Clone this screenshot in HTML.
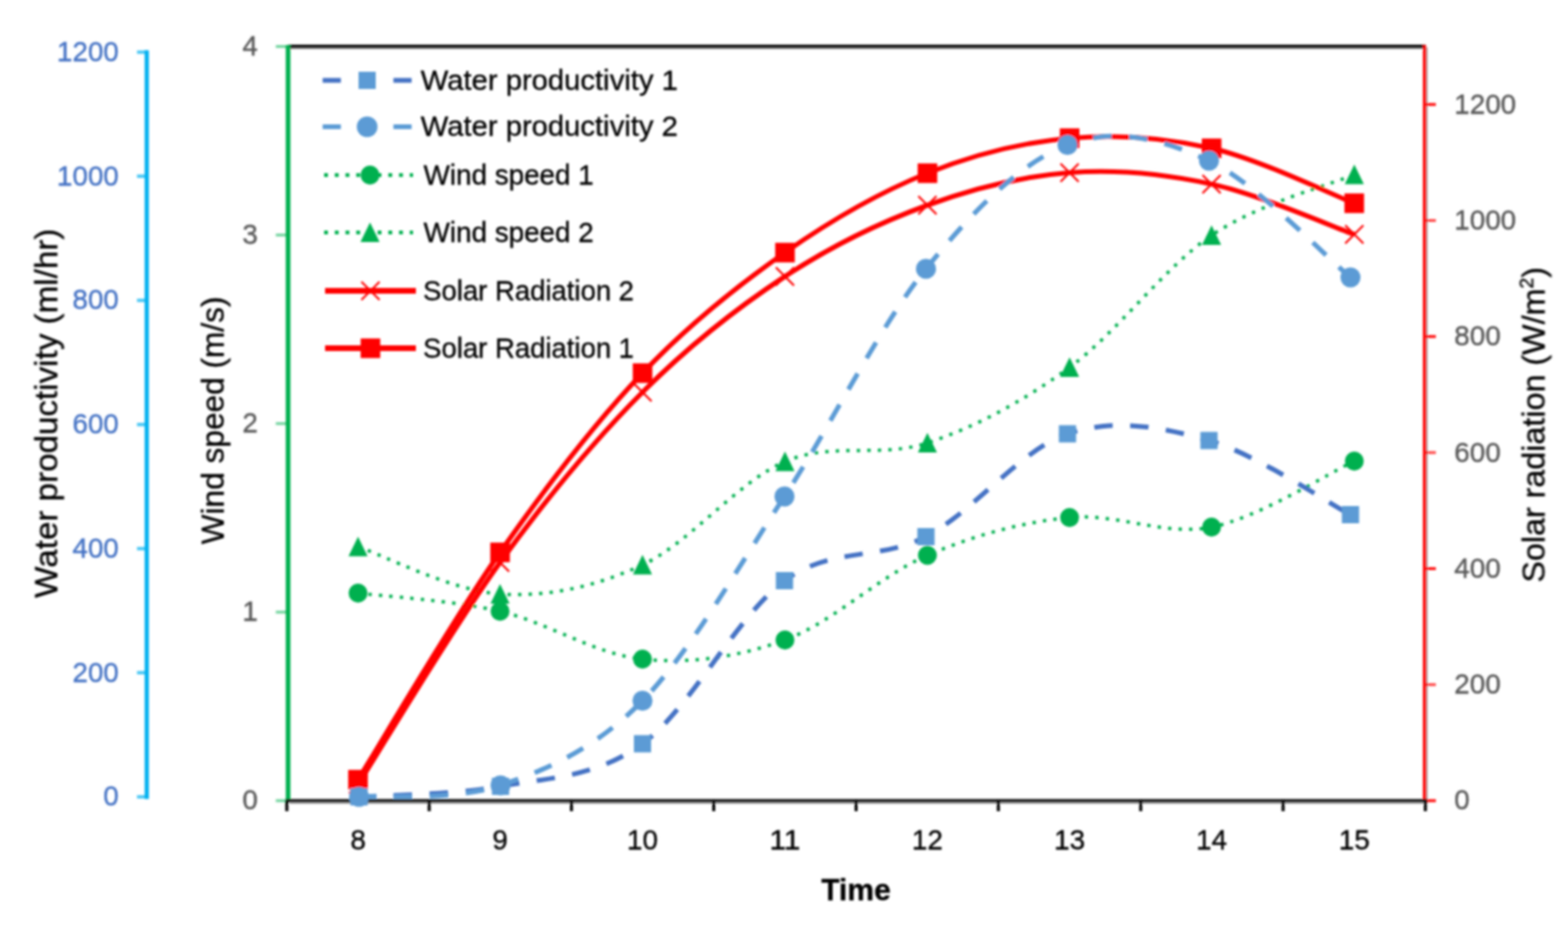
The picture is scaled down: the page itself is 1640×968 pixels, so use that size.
<!DOCTYPE html>
<html lang="en"><head><meta charset="utf-8"><title>Water productivity, wind speed and solar radiation versus time</title>
<style>
html,body{margin:0;padding:0;background:#fff;}
body{width:1640px;height:968px;overflow:hidden;}
svg{display:block;}
text{font-family:"Liberation Sans", sans-serif;font-size:28.5px;}
.g{fill:#595959;} .b{fill:#4472C4;} .k{fill:#000;}
.t{font-size:29.5px;fill:#000;}
.n{font-size:29.8px;}
text{stroke-width:0.35px;paint-order:stroke;}
.g{stroke:#595959;} .b{stroke:#4472C4;} .k,.t{stroke:#000;}
</style></head><body>
<svg width="1640" height="968" viewBox="0 0 1640 968">
<rect width="1640" height="968" fill="#fff"/>
<defs><filter id="soft" x="0" y="0" width="1640" height="968" filterUnits="userSpaceOnUse"><feGaussianBlur stdDeviation="0.85"/></filter></defs>
<g filter="url(#soft)">
<g id="axes" fill="none">
<path d="M303,50.3 H1492.3 V839.3 H303" stroke="#9a9a9a" stroke-width="1.8"/>
<path d="M301,48.5 H1491" stroke="#000" stroke-width="3.5"/>
<path d="M153.5,52.4 V835.2" stroke="#00B0F0" stroke-width="4.4"/>
<path d="M143.3,833 H153" stroke="#00B0F0" stroke-width="3.6" opacity="0.7"/>
<path d="M143.3,703.2 H153" stroke="#00B0F0" stroke-width="3.6" opacity="0.7"/>
<path d="M143.3,573.5 H153" stroke="#00B0F0" stroke-width="3.6" opacity="0.7"/>
<path d="M143.3,443.8 H153" stroke="#00B0F0" stroke-width="3.6" opacity="0.7"/>
<path d="M143.3,314 H153" stroke="#00B0F0" stroke-width="3.6" opacity="0.7"/>
<path d="M143.3,184.2 H153" stroke="#00B0F0" stroke-width="3.6" opacity="0.7"/>
<path d="M143.3,54.5 H153" stroke="#00B0F0" stroke-width="3.6" opacity="0.7"/>
<path d="M301.3,47.2 V837" stroke="#00B050" stroke-width="4.9"/>
<path d="M288.5,837 H300" stroke="#00B050" stroke-width="3" opacity="0.55"/>
<path d="M288.5,639.9 H300" stroke="#00B050" stroke-width="3" opacity="0.55"/>
<path d="M288.5,442.8 H300" stroke="#00B050" stroke-width="3" opacity="0.55"/>
<path d="M288.5,245.7 H300" stroke="#00B050" stroke-width="3" opacity="0.55"/>
<path d="M288.5,48.6 H300" stroke="#00B050" stroke-width="3" opacity="0.55"/>
<path d="M1490,47.2 V838" stroke="#FF0000" stroke-width="3.5"/>
<path d="M1491,837 H1501.8" stroke="#FF0000" stroke-width="3" opacity="0.95"/>
<path d="M1491,715.7 H1501.8" stroke="#FF0000" stroke-width="3" opacity="0.7"/>
<path d="M1491,594.4 H1501.8" stroke="#FF0000" stroke-width="3" opacity="0.95"/>
<path d="M1491,473.1 H1501.8" stroke="#FF0000" stroke-width="3" opacity="0.7"/>
<path d="M1491,351.8 H1501.8" stroke="#FF0000" stroke-width="3" opacity="0.95"/>
<path d="M1491,230.5 H1501.8" stroke="#FF0000" stroke-width="3" opacity="0.7"/>
<path d="M1491,109.2 H1501.8" stroke="#FF0000" stroke-width="3" opacity="0.95"/>
<path d="M298.8,837 H1492.5" stroke="#1c1c1c" stroke-width="3.4"/>
<path d="M300,837 V848" stroke="#000" stroke-width="3.2"/>
<path d="M448.9,837 V848" stroke="#000" stroke-width="3.2"/>
<path d="M597.7,837 V848" stroke="#000" stroke-width="3.2"/>
<path d="M746.5,837 V848" stroke="#000" stroke-width="3.2"/>
<path d="M895.4,837 V848" stroke="#000" stroke-width="3.2"/>
<path d="M1044.2,837 V848" stroke="#000" stroke-width="3.2"/>
<path d="M1193.1,837 V848" stroke="#000" stroke-width="3.2"/>
<path d="M1342,837 V848" stroke="#000" stroke-width="3.2"/>
<path d="M1490.8,837 V848" stroke="#000" stroke-width="3.2"/>
</g>
<g id="series" fill="none" stroke-linejoin="round">
<path d="M374.5,620 C399.2,623.2 473.4,627.5 523,639 C572.6,650.5 622.3,684 672,689 C721.7,694 771.3,687.1 821,669 C870.7,650.9 920.4,601.8 970,580.5 C1019.6,559.2 1069.2,545.9 1118.7,541 C1168.2,536.1 1217.6,560.8 1267.2,551 C1316.8,541.2 1391.6,493.5 1416.5,482" stroke="#00B050" stroke-width="3.5" stroke-dasharray="3.5 7.5"/>
<path d="M374.5,571.5 C399.2,579.8 473.4,617.8 523,621 C572.6,624.2 622.3,613.6 672,590.5 C721.7,567.4 771.3,503.8 821,482.5 C870.7,461.2 920.4,479.4 970,463 C1019.6,446.6 1069.2,420.2 1118.7,384 C1168.2,347.8 1217.6,279.6 1267.2,246 C1316.8,212.4 1391.6,193.1 1416.5,182.5" stroke="#00B050" stroke-width="3.5" stroke-dasharray="3.5 7.5"/>
<circle cx="374.5" cy="620" r="9.9" fill="#00B050"/>
<circle cx="523" cy="639" r="9.9" fill="#00B050"/>
<circle cx="672" cy="689" r="9.9" fill="#00B050"/>
<circle cx="821" cy="669" r="9.9" fill="#00B050"/>
<circle cx="970" cy="580.5" r="9.9" fill="#00B050"/>
<circle cx="1118.7" cy="541" r="9.9" fill="#00B050"/>
<circle cx="1267.2" cy="551" r="9.9" fill="#00B050"/>
<circle cx="1416.5" cy="482" r="9.9" fill="#00B050"/>
<path d="M374.5,560.9 L384.5,581.5 L364.5,581.5 Z" fill="#00B050"/>
<path d="M523,610.4 L533,631 L513,631 Z" fill="#00B050"/>
<path d="M672,579.9 L682,600.5 L662,600.5 Z" fill="#00B050"/>
<path d="M821,471.9 L831,492.5 L811,492.5 Z" fill="#00B050"/>
<path d="M970,452.4 L980,473 L960,473 Z" fill="#00B050"/>
<path d="M1118.7,373.4 L1128.7,394 L1108.7,394 Z" fill="#00B050"/>
<path d="M1267.2,235.4 L1277.2,256 L1257.2,256 Z" fill="#00B050"/>
<path d="M1416.5,171.9 L1426.5,192.5 L1406.5,192.5 Z" fill="#00B050"/>
<path d="M374.5,820 C399.2,781.3 473.4,656.3 523,588 C572.6,519.7 622.3,459.8 672,410 C721.7,360.2 771.3,321.6 821,289 C870.7,256.4 920.4,232.6 970,214.5 C1019.6,196.4 1069.2,184.2 1118.7,180.5 C1168.2,176.8 1217.6,181.8 1267.2,192.5 C1316.8,203.2 1391.6,236.2 1416.5,245" stroke="#FF0000" stroke-width="5.1"/>
<path d="M374.5,815 C399.2,775.4 473.4,648.3 523,577.5 C572.6,506.7 622.3,442.2 672,390 C721.7,337.8 771.3,298.8 821,264 C870.7,229.2 920.4,200.9 970,181 C1019.6,161.1 1069.2,148.8 1118.7,144.5 C1168.2,140.2 1217.6,143.7 1267.2,155 C1316.8,166.3 1391.6,202.9 1416.5,212.5" stroke="#FF0000" stroke-width="5.1"/>
<path d="M365,810.5 L384,829.5 M365,829.5 L384,810.5" stroke="#FF0000" stroke-width="2.0" fill="none"/>
<path d="M513.5,578.5 L532.5,597.5 M513.5,597.5 L532.5,578.5" stroke="#FF0000" stroke-width="2.0" fill="none"/>
<path d="M662.5,400.5 L681.5,419.5 M662.5,419.5 L681.5,400.5" stroke="#FF0000" stroke-width="2.0" fill="none"/>
<path d="M811.5,279.5 L830.5,298.5 M811.5,298.5 L830.5,279.5" stroke="#FF0000" stroke-width="2.0" fill="none"/>
<path d="M960.5,205 L979.5,224 M960.5,224 L979.5,205" stroke="#FF0000" stroke-width="2.0" fill="none"/>
<path d="M1109.2,171 L1128.2,190 M1109.2,190 L1128.2,171" stroke="#FF0000" stroke-width="2.0" fill="none"/>
<path d="M1257.7,183 L1276.7,202 M1257.7,202 L1276.7,183" stroke="#FF0000" stroke-width="2.0" fill="none"/>
<path d="M1407,235.5 L1426,254.5 M1407,254.5 L1426,235.5" stroke="#FF0000" stroke-width="2.0" fill="none"/>
<rect x="364.2" y="804.8" width="20.5" height="20.5" fill="#FF0000"/>
<rect x="512.8" y="567.2" width="20.5" height="20.5" fill="#FF0000"/>
<rect x="661.8" y="379.8" width="20.5" height="20.5" fill="#FF0000"/>
<rect x="810.8" y="253.8" width="20.5" height="20.5" fill="#FF0000"/>
<rect x="959.8" y="170.8" width="20.5" height="20.5" fill="#FF0000"/>
<rect x="1108.5" y="134.2" width="20.5" height="20.5" fill="#FF0000"/>
<rect x="1257" y="144.8" width="20.5" height="20.5" fill="#FF0000"/>
<rect x="1406.2" y="202.2" width="20.5" height="20.5" fill="#FF0000"/>
<path d="M375.5,833 C400.2,831.2 474.1,831.2 523.5,822 C572.9,812.8 622.5,813.3 672,777.5 C721.5,741.7 771.1,643.1 820.5,607 C869.9,570.9 919.2,586.6 968.5,561 C1017.8,535.4 1067.2,470.2 1116.5,453.5 C1165.8,436.8 1215.2,446.4 1264.5,460.5 C1313.8,474.6 1387.8,525.1 1412.5,538" stroke="#4472C4" stroke-width="5" stroke-dasharray="19.3 18.3" stroke-dashoffset="1.2"/>
<path d="M375.5,833 C400.2,831 474.1,837.8 523.5,821 C572.9,804.2 622.5,782.8 672,732.5 C721.5,682.2 771.1,594.2 820.5,519 C869.9,443.8 919.2,342.2 968.5,281 C1017.8,219.8 1067.2,170.3 1116.5,151.5 C1165.8,132.7 1215.2,144.9 1264.5,168 C1313.8,191.1 1387.8,269.7 1412.5,290" stroke="#5B9BD5" stroke-width="5" stroke-dasharray="19.3 18.37" stroke-dashoffset="1.2"/>
<rect x="366.5" y="824" width="18" height="18" fill="#5B9BD5"/>
<rect x="514.5" y="813" width="18" height="18" fill="#5B9BD5"/>
<rect x="663" y="768.5" width="18" height="18" fill="#5B9BD5"/>
<rect x="811.5" y="598" width="18" height="18" fill="#5B9BD5"/>
<rect x="959.5" y="552" width="18" height="18" fill="#5B9BD5"/>
<rect x="1107.5" y="444.5" width="18" height="18" fill="#5B9BD5"/>
<rect x="1255.5" y="451.5" width="18" height="18" fill="#5B9BD5"/>
<rect x="1403.5" y="529" width="18" height="18" fill="#5B9BD5"/>
<circle cx="375.5" cy="833" r="10.5" fill="#5B9BD5"/>
<circle cx="523.5" cy="821" r="10.5" fill="#5B9BD5"/>
<circle cx="672" cy="732.5" r="10.5" fill="#5B9BD5"/>
<circle cx="820.5" cy="519" r="10.5" fill="#5B9BD5"/>
<circle cx="968.5" cy="281" r="10.5" fill="#5B9BD5"/>
<circle cx="1116.5" cy="151.5" r="10.5" fill="#5B9BD5"/>
<circle cx="1264.5" cy="168" r="10.5" fill="#5B9BD5"/>
<circle cx="1412.5" cy="290" r="10.5" fill="#5B9BD5"/>
</g>
<g id="legend">
<path d="M337.5,84 H356.5 M411.5,84 H430.5" stroke="#4472C4" stroke-width="5" fill="none"/>
<rect x="375" y="75" width="18" height="18" fill="#5B9BD5"/>
<path d="M337.5,132.5 H356.5 M411.5,132.5 H430.5" stroke="#5B9BD5" stroke-width="5" fill="none"/>
<circle cx="384" cy="132.5" r="10.8" fill="#5B9BD5"/>
<path d="M339,183 H432" stroke="#00B050" stroke-width="4" stroke-dasharray="4 7.2" fill="none"/>
<circle cx="387" cy="183" r="9.9" fill="#00B050"/>
<path d="M339,243 H432" stroke="#00B050" stroke-width="4" stroke-dasharray="4 7.2" fill="none"/>
<path d="M387,232.4 L397,253 L377,253 Z" fill="#00B050"/>
<path d="M340,304 H435" stroke="#FF0000" stroke-width="5.8" fill="none"/>
<path d="M378,294.5 L397,313.5 M378,313.5 L397,294.5" stroke="#FF0000" stroke-width="2.0" fill="none"/>
<path d="M340,364 H435" stroke="#FF0000" stroke-width="5.8" fill="none"/>
<rect x="377.2" y="353.8" width="20.5" height="20.5" fill="#FF0000"/>
<text class="t" x="440" y="93.5" textLength="269" lengthAdjust="spacingAndGlyphs">Water productivity 1</text>
<text class="t" x="440" y="142" textLength="269" lengthAdjust="spacingAndGlyphs">Water productivity 2</text>
<text class="t" x="443" y="192.5" textLength="178" lengthAdjust="spacingAndGlyphs">Wind speed 1</text>
<text class="t" x="443" y="252.5" textLength="178" lengthAdjust="spacingAndGlyphs">Wind speed 2</text>
<text class="t" x="442.6" y="313.5" textLength="220.5" lengthAdjust="spacingAndGlyphs">Solar Radiation 2</text>
<text class="t" x="442.6" y="374" textLength="220.5" lengthAdjust="spacingAndGlyphs">Solar Radiation 1</text>
</g>
<g id="ticklabels">
<text class="b n" x="124.3" y="842.3" text-anchor="end" textLength="16.2" lengthAdjust="spacingAndGlyphs">0</text>
<text class="b n" x="124.3" y="712.5" text-anchor="end" textLength="48.6" lengthAdjust="spacingAndGlyphs">200</text>
<text class="b n" x="124.3" y="582.8" text-anchor="end" textLength="48.6" lengthAdjust="spacingAndGlyphs">400</text>
<text class="b n" x="124.3" y="453.1" text-anchor="end" textLength="48.6" lengthAdjust="spacingAndGlyphs">600</text>
<text class="b n" x="124.3" y="323.3" text-anchor="end" textLength="48.6" lengthAdjust="spacingAndGlyphs">800</text>
<text class="b n" x="124.3" y="193.6" text-anchor="end" textLength="64.8" lengthAdjust="spacingAndGlyphs">1000</text>
<text class="b n" x="124.3" y="63.8" text-anchor="end" textLength="64.8" lengthAdjust="spacingAndGlyphs">1200</text>
<text class="g n" x="269.8" y="846.3" text-anchor="end" textLength="16.2" lengthAdjust="spacingAndGlyphs">0</text>
<text class="g n" x="269.8" y="649.2" text-anchor="end" textLength="16.2" lengthAdjust="spacingAndGlyphs">1</text>
<text class="g n" x="269.8" y="452.1" text-anchor="end" textLength="16.2" lengthAdjust="spacingAndGlyphs">2</text>
<text class="g n" x="269.8" y="255" text-anchor="end" textLength="16.2" lengthAdjust="spacingAndGlyphs">3</text>
<text class="g n" x="269.8" y="57.9" text-anchor="end" textLength="16.2" lengthAdjust="spacingAndGlyphs">4</text>
<text class="g n" x="1521" y="846.4" textLength="16.2" lengthAdjust="spacingAndGlyphs">0</text>
<text class="g n" x="1521" y="725.1" textLength="48.6" lengthAdjust="spacingAndGlyphs">200</text>
<text class="g n" x="1521" y="603.8" textLength="48.6" lengthAdjust="spacingAndGlyphs">400</text>
<text class="g n" x="1521" y="482.5" textLength="48.6" lengthAdjust="spacingAndGlyphs">600</text>
<text class="g n" x="1521" y="361.2" textLength="48.6" lengthAdjust="spacingAndGlyphs">800</text>
<text class="g n" x="1521" y="239.9" textLength="64.8" lengthAdjust="spacingAndGlyphs">1000</text>
<text class="g n" x="1521" y="118.6" textLength="64.8" lengthAdjust="spacingAndGlyphs">1200</text>
<text class="k n" x="374.5" y="888.2" text-anchor="middle" style="font-size:29px" textLength="16.2" lengthAdjust="spacingAndGlyphs">8</text>
<text class="k n" x="523" y="888.2" text-anchor="middle" style="font-size:29px" textLength="16.2" lengthAdjust="spacingAndGlyphs">9</text>
<text class="k n" x="672" y="888.2" text-anchor="middle" style="font-size:29px" textLength="32.4" lengthAdjust="spacingAndGlyphs">10</text>
<text class="k n" x="821" y="888.2" text-anchor="middle" style="font-size:29px" textLength="32.4" lengthAdjust="spacingAndGlyphs">11</text>
<text class="k n" x="970" y="888.2" text-anchor="middle" style="font-size:29px" textLength="32.4" lengthAdjust="spacingAndGlyphs">12</text>
<text class="k n" x="1118.7" y="888.2" text-anchor="middle" style="font-size:29px" textLength="32.4" lengthAdjust="spacingAndGlyphs">13</text>
<text class="k n" x="1267.2" y="888.2" text-anchor="middle" style="font-size:29px" textLength="32.4" lengthAdjust="spacingAndGlyphs">14</text>
<text class="k n" x="1416.5" y="888.2" text-anchor="middle" style="font-size:29px" textLength="32.4" lengthAdjust="spacingAndGlyphs">15</text>
</g>
<g id="titles">
<text class="t" transform="translate(59.8,432) rotate(-90)" text-anchor="middle" textLength="386" lengthAdjust="spacingAndGlyphs" style="font-size:33px">Water productivity (ml/hr)</text>
<text class="t" transform="translate(234,439.5) rotate(-90)" text-anchor="middle" textLength="259" lengthAdjust="spacingAndGlyphs" style="font-size:33px">Wind speed (m/s)</text>
<text class="t" transform="translate(1615.5,444) rotate(-90)" text-anchor="middle" textLength="330" lengthAdjust="spacingAndGlyphs" style="font-size:33px">Solar radiation (W/m<tspan style="font-size:20px" dy="-12">2</tspan><tspan dy="12">)</tspan></text>
<text class="t" x="895.3" y="941.2" text-anchor="middle" textLength="72.5" lengthAdjust="spacingAndGlyphs" style="font-size:31.5px;font-weight:bold">Time</text>
</g>
</g>
</svg>
</body></html>
